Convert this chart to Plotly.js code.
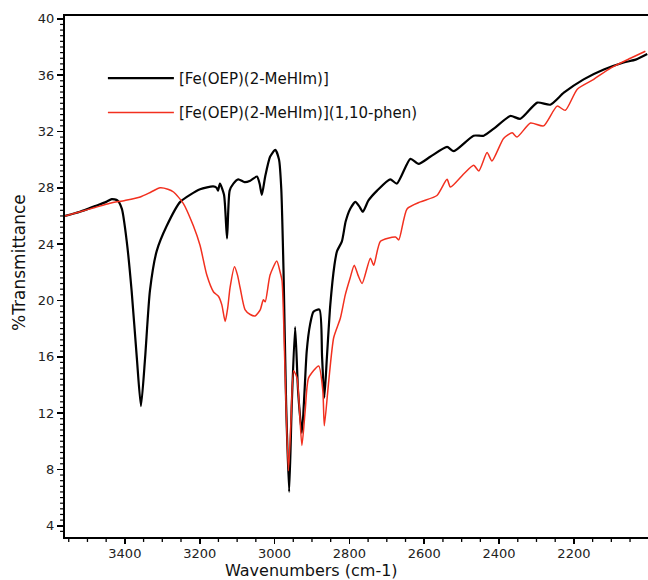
<!DOCTYPE html>
<html>
<head>
<meta charset="utf-8">
<script src="https://cdn.plot.ly/plotly-3.0.1.min.js"></script>
<style>html,body{margin:0;padding:0;background:#fff;}#chart{width:648px;height:580px;}</style>
</head>
<body>
<div id="chart"></div>
<script>
// Series names
const seriesNames = ["[Fe(OEP)(2-MeHIm)]", "[Fe(OEP)(2-MeHIm)](1,10-phen)"];

// Black spectrum: [Fe(OEP)(2-MeHIm)]
const blackX = [3560, 3520, 3480, 3450, 3435, 3420, 3408, 3395, 3382, 3368, 3357, 3346, 3333, 3315, 3288, 3252, 3199, 3164, 3155, 3151, 3146, 3135, 3127, 3120, 3110, 3097, 3080, 3065, 3047, 3040, 3034, 3025, 3012, 2998, 2988, 2982, 2976, 2969, 2961, 2954, 2945, 2937, 2927, 2920, 2914, 2905, 2896, 2880, 2873, 2867, 2860, 2851, 2840, 2833, 2820, 2810, 2798, 2784, 2774, 2764, 2749, 2726, 2691, 2673, 2637, 2615, 2584, 2539, 2521, 2468, 2441, 2414, 2370, 2343, 2298, 2263, 2227, 2174, 2120, 2067, 2035, 2004];
const blackY = [26.0, 26.3, 26.7, 27.0, 27.2, 27.1, 26.5, 24.2, 20.7, 15.9, 12.5, 15.9, 20.7, 23.5, 25.3, 27.0, 27.9, 28.1, 28.0, 27.8, 28.3, 27.5, 24.4, 27.8, 28.3, 28.6, 28.4, 28.5, 28.8, 28.3, 27.5, 28.8, 30.2, 30.7, 30.0, 27.9, 22.1, 12.6, 6.4, 12.6, 18.1, 13.5, 10.6, 13.5, 16.4, 18.3, 19.2, 19.35, 16.0, 13.1, 16.0, 19.7, 22.5, 23.5, 24.2, 25.6, 26.5, 27.0, 26.7, 26.3, 27.1, 27.8, 28.6, 28.3, 30.05, 29.7, 30.2, 30.9, 30.6, 31.7, 31.7, 32.2, 33.1, 32.9, 34.05, 33.9, 34.75, 35.7, 36.4, 36.9, 37.1, 37.5];

// Red spectrum: [Fe(OEP)(2-MeHIm)](1,10-phen)
const redX = [3560, 3520, 3480, 3440, 3400, 3359, 3330, 3306, 3285, 3270, 3244, 3217, 3199, 3181, 3163, 3150, 3141, 3132, 3125, 3119, 3107, 3099, 3092, 3079, 3065, 3052, 3038, 3030, 3025, 3012, 2994, 2985, 2980, 2972, 2963, 2956, 2949, 2940, 2927, 2918, 2909, 2882, 2871, 2867, 2856, 2842, 2824, 2811, 2798, 2787, 2777, 2766, 2744, 2735, 2717, 2677, 2668, 2646, 2610, 2566, 2539, 2530, 2494, 2468, 2454, 2432, 2419, 2388, 2365, 2352, 2316, 2281, 2245, 2223, 2191, 2147, 2102, 2049, 2009];
const redY = [26.0, 26.3, 26.6, 26.9, 27.1, 27.35, 27.7, 28.0, 27.9, 27.7, 26.9, 25.3, 23.9, 21.8, 20.6, 20.3, 19.7, 18.5, 19.5, 20.9, 22.4, 21.8, 20.9, 19.35, 19.0, 18.9, 19.35, 20.05, 19.9, 21.8, 22.8, 22.0, 21.4, 15.0, 7.9, 11.5, 15.0, 14.5, 9.7, 12.2, 14.5, 15.35, 13.6, 11.1, 14.05, 17.35, 18.75, 20.4, 21.6, 22.5, 21.8, 21.2, 23.0, 22.5, 24.2, 24.5, 24.3, 26.5, 27.0, 27.45, 28.6, 28.05, 29.0, 29.6, 29.2, 30.5, 29.9, 31.5, 31.9, 31.6, 32.6, 32.4, 33.8, 33.5, 35.0, 35.7, 36.5, 37.2, 37.7];

// Axis labels
const xTitle = 'Wavenumbers (cm-1)';
const yTitle = '%Transmittance';

const traces = [
  {x: blackX, y: blackY, name: seriesNames[0], type: 'scatter', mode: 'lines',
   line: {color: '#000000', width: 2.2, shape: 'spline', smoothing: 0.6}, legendgroup: 'a'},
  {x: redX, y: redY, name: seriesNames[1], type: 'scatter', mode: 'lines',
   line: {color: '#f2301f', width: 1.5, shape: 'spline', smoothing: 0.6}, legendgroup: 'b'}
];

const fam = 'DejaVu Sans, Verdana, sans-serif';
const axisFont = {family: fam, size: 13, color: '#222222'};
const xRange = [3560, 2002];
const yRange = [3.2, 40.2];

// minor tick marks: short lines placed in paper space from the axis ranges
const toPaperX = v => (v - xRange[0]) / (xRange[1] - xRange[0]);
const toPaperY = v => (v - yRange[0]) / (yRange[1] - yRange[0]);
const shapes = [];
for (let v = 2050; v <= 3550; v += 50) {
  if (v % 200 === 0) continue;
  const px = toPaperX(v);
  shapes.push({type: 'line', xref: 'paper', yref: 'paper', x0: px, x1: px, y0: -0.001, y1: -0.0095,
    line: {color: '#000', width: 1.3}, layer: 'above'});
}
for (let i = 9; i <= 100; i++) {
  if (i % 10 === 0) continue;
  const py = toPaperY(i * 0.4);
  shapes.push({type: 'line', xref: 'paper', yref: 'paper', x0: -0.001, x1: -0.0085, y0: py, y1: py,
    line: {color: '#000', width: 1.2}, layer: 'above'});
}

const layout = {
  width: 648, height: 580,
  margin: {l: 65, r: 0, t: 16, b: 43, pad: 0},
  paper_bgcolor: '#ffffff', plot_bgcolor: '#ffffff',
  showlegend: true,
  legend: {x: 0.065, y: 0.912, xanchor: 'left', yanchor: 'top',
    font: {family: fam, size: 15, color: '#111111'},
    bgcolor: 'rgba(0,0,0,0)', itemwidth: 66, tracegroupgap: 12, traceorder: 'grouped'},
  xaxis: {
    range: xRange, tickmode: 'linear', tick0: 2200, dtick: 200,
    showgrid: false, zeroline: false, showline: true, linecolor: '#000', linewidth: 2,
    mirror: true, ticks: 'outside', ticklen: 5, tickwidth: 1.6, tickcolor: '#000',
    ticklabelstandoff: -2,
    tickfont: axisFont, automargin: false
  },
  yaxis: {
    range: yRange, tickmode: 'linear', tick0: 0, dtick: 4,
    showgrid: false, zeroline: false, showline: true, linecolor: '#000', linewidth: 2,
    ticks: 'outside', ticklen: 6, tickwidth: 1.6, tickcolor: '#000',
    tickfont: axisFont, automargin: false
  },
  shapes: shapes,
  annotations: [
    {text: xTitle, xref: 'paper', yref: 'paper', x: 0.423, y: -0.0645,
     xanchor: 'center', yanchor: 'middle', showarrow: false,
     font: {family: fam, size: 16, color: '#111111'}},
    {text: yTitle, xref: 'paper', yref: 'paper', x: -0.078, y: 0.527,
     xanchor: 'center', yanchor: 'middle', showarrow: false, textangle: -90,
     font: {family: fam, size: 17, color: '#111111'}}
  ]
};

Plotly.newPlot('chart', traces, layout, {displayModeBar: false, staticPlot: true});
</script>
</body>
</html>
